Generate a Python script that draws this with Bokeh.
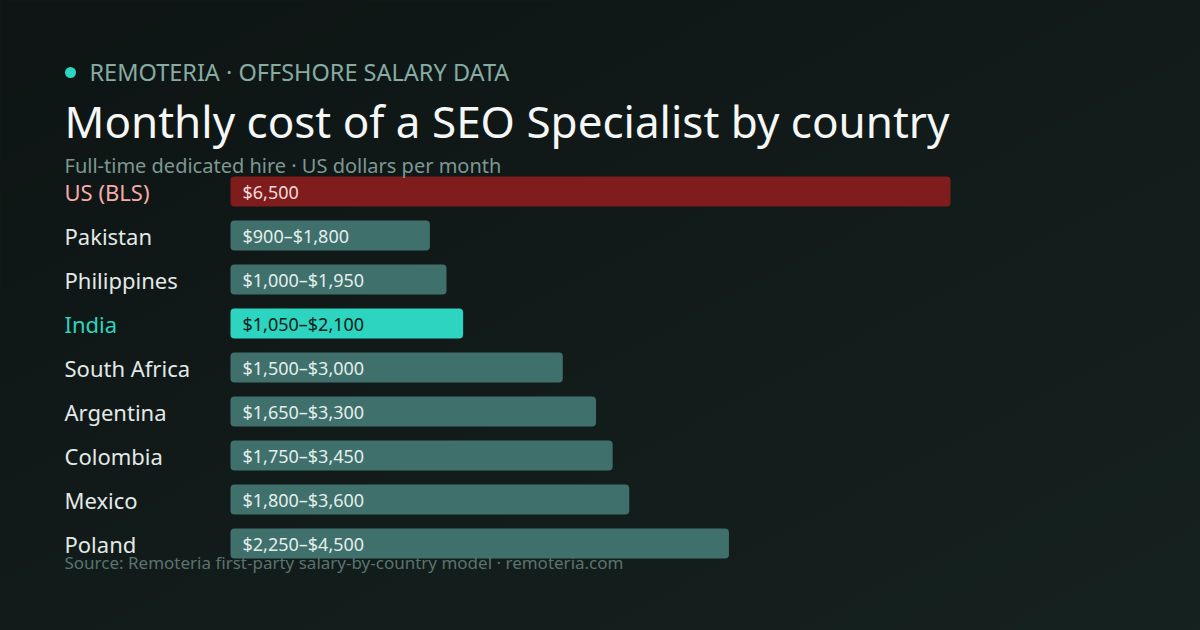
import numpy as np
from bokeh.plotting import figure
from bokeh.models import Range1d, ColumnDataSource, GlobalInlineStyleSheet
from bokeh.core.properties import value
from bokeh.embed import file_html
from bokeh.resources import INLINE

# ---- data ----
countries = ["US (BLS)", "Pakistan", "Philippines", "India", "South Africa",
             "Argentina", "Colombia", "Mexico", "Poland"]
low_usd = [None, 900, 1000, 1050, 1500, 1650, 1750, 1800, 2250]
high_usd = [6500, 1800, 1950, 2100, 3000, 3300, 3450, 3600, 4500]
kicker = "REMOTERIA · OFFSHORE SALARY DATA"
title = "Monthly cost of a SEO Specialist by country"
subtitle = "Full-time dedicated hire · US dollars per month"
source = "Source: Remoteria first-party salary-by-country model · remoteria.com"

# ---- layout helpers (screen px -> data) ----
W, H, OFF = 1200, 630, 0
X0, PX_PER_USD = 230.0, 720.0 / 6500.0
ROW0, ROWH = 191.0, 44.0

def xd(sx):
    return (sx - X0) / PX_PER_USD

def yd(sy):
    return (sy - ROW0) / ROWH

FONT = value("Noto Sans")

p = figure(width=W, height=H, output_backend="svg", toolbar_location=None,
           x_range=Range1d(xd(OFF), xd(OFF + W)),
           y_range=Range1d(yd(OFF + H), yd(OFF)),
           min_border=0, outline_line_color=None,
           background_fill_color="#121b1a", border_fill_color="#121b1a")
p.axis.visible = False
p.grid.visible = False
p.stylesheets = [GlobalInlineStyleSheet(
    css="html,body{margin:0;padding:0;background:#111a19;overflow:hidden;}")]

# background gradient (diagonal, subtle)
ny, nx = 79, 150
u = np.linspace(0, 1, nx)[None, :]
v = np.linspace(0, 1, ny)[:, None]
t = (u + v) / 2.0
c0 = np.array([14, 21, 20], dtype=float)
c1 = np.array([22, 34, 32], dtype=float)
img = np.empty((ny, nx), dtype=np.uint32)
view = img.view(dtype=np.uint8).reshape((ny, nx, 4))
for k in range(3):
    view[:, :, k] = (c0[k] + (c1[k] - c0[k]) * t).astype(np.uint8)
view[:, :, 3] = 255
p.image_rgba(image=[img], x=xd(OFF), y=yd(OFF), dw=xd(OFF + W) - xd(OFF),
             dh=yd(OFF + H) - yd(OFF))

# ---- bars ----
idx = list(range(len(countries)))
fills, lab_cols, txt_cols, bar_txt = [], [], [], []
for c, lo, hi in zip(countries, low_usd, high_usd):
    if c.startswith("US"):
        fills.append("#7f1d1d"); lab_cols.append("#f7aaa8"); txt_cols.append("#f1dcdb")
        bar_txt.append(f"${hi:,}")
    elif c == "India":
        fills.append("#2dd4bf"); lab_cols.append("#2dd4bf"); txt_cols.append("#0b1c19")
        bar_txt.append(f"${lo:,}–${hi:,}")
    else:
        fills.append("#3f706b"); lab_cols.append("#e3e9e7"); txt_cols.append("#e3eeeb")
        bar_txt.append(f"${lo:,}–${hi:,}")

src = ColumnDataSource(dict(y=idx, right=high_usd, fill=fills, name=countries,
                            labcol=lab_cols, txtcol=txt_cols, bt=bar_txt))

p.hbar(y="y", left=0, right="right", height=30.0 / ROWH, source=src,
       fill_color="fill", line_color=None, border_radius=4)

p.text(x=xd(64), y="y", text="name", source=src, text_color="labcol",
       text_font=FONT, text_font_size="22px", text_baseline="middle",
       text_align="left", y_offset=0.5)
p.text(x=xd(242), y="y", text="bt", source=src, text_color="txtcol",
       text_font=FONT, text_font_size="18px", text_baseline="middle",
       text_align="left")

# ---- header / footer ----
p.scatter(x=[xd(70)], y=[yd(72)], size=11, marker="circle",
          fill_color="#2dd4bf", line_color=None)
p.text(x=[xd(89)], y=[yd(71.5)], text=[kicker], text_color="#86aca4",
       text_font=FONT, text_font_size="23.5px", text_baseline="alphabetic")
p.text(x=[xd(64)], y=[yd(120)], text=[title], text_color="#f5f7f6",
       text_font=FONT, text_font_size="44px", text_baseline="alphabetic")
p.text(x=[xd(64)], y=[yd(165)], text=[subtitle], text_color="#7d9893",
       text_font=FONT, text_font_size="20px", text_baseline="alphabetic")
p.text(x=[xd(64)], y=[yd(562)], text=[source], text_color="#5b736f",
       text_font=FONT, text_font_size="17px", text_baseline="alphabetic")

open("out.html", "w").write(file_html(p, INLINE))
